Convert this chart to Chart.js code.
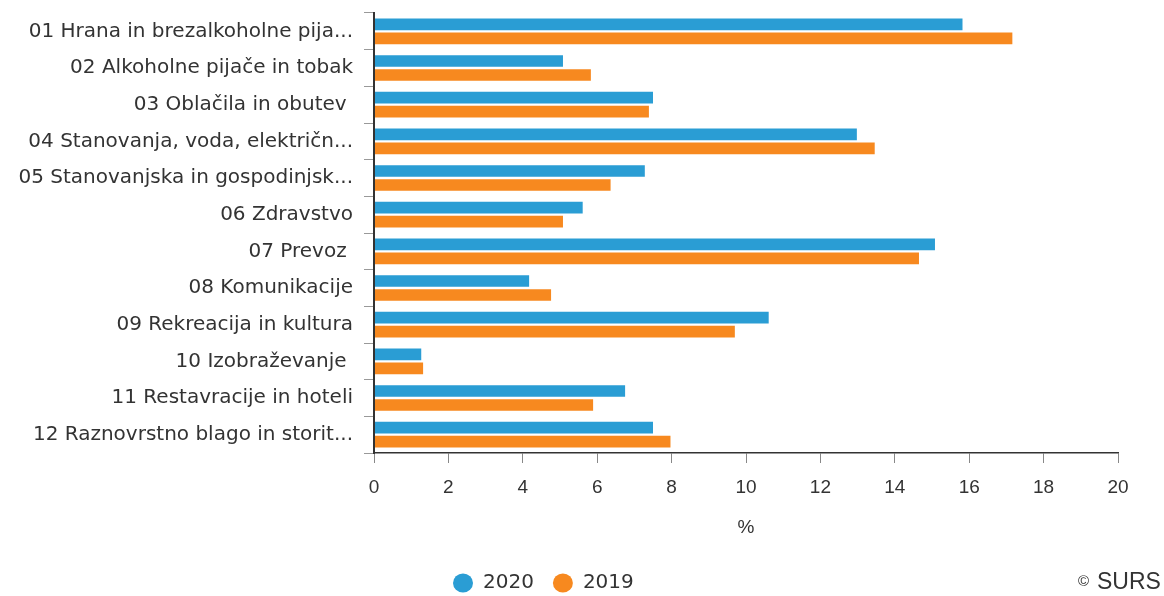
<!DOCTYPE html>
<html>
<head>
<meta charset="utf-8">
<script src="https://cdn.jsdelivr.net/npm/chart.js@4.4.1/dist/chart.umd.min.js"></script>
<style>
html,body{margin:0;padding:0;background:#fff;}
#wrap{width:1164px;height:596px;position:relative;}
</style>
</head>
<body>
<div id="wrap"><canvas id="c" width="1164" height="596"></canvas></div>
<script>
const categories = [
  "01 Hrana in brezalkoholne pija...",
  "02 Alkoholne pijače in tobak",
  "03 Oblačila in obutev ",
  "04 Stanovanja, voda, električn...",
  "05 Stanovanjska in gospodinjsk...",
  "06 Zdravstvo",
  "07 Prevoz ",
  "08 Komunikacije",
  "09 Rekreacija in kultura",
  "10 Izobraževanje ",
  "11 Restavracije in hoteli",
  "12 Raznovrstno blago in storit..."
];
const seriesNames = ["2020", "2019"];
const values2020 = [15.82, 5.08, 7.50, 12.98, 7.28, 5.61, 15.08, 4.17, 10.61, 1.27, 6.75, 7.50];
const values2019 = [17.16, 5.83, 7.39, 13.46, 6.36, 5.08, 14.65, 4.76, 9.70, 1.32, 5.89, 7.97];
const xMin = 0, xMax = 20, xStep = 2;
const axisTitle = "%";
const creditText = "SURS";

const BLUE = "#2a9dd4";
const ORANGE = "#f7891f";
const TEXT = "#333333";

const legendShift = {
  id: "legendShift",
  afterLayout(chart) {
    const L = chart.legend;
    if (!L) return;
    const pad = L.options.labels.padding;
    const h = L.height;
    L.left = 453 - pad;
    L.right = 1164;
    L.top = 554;
    L.bottom = 554 + h;
  }
};

const credit = {
  id: "credit",
  afterDraw(chart) {
    const ctx = chart.ctx;
    ctx.save();
    ctx.fillStyle = TEXT;
    ctx.textBaseline = "middle";
    ctx.textAlign = "left";
    ctx.font = "15px 'Liberation Sans', Arial, sans-serif";
    ctx.fillText("\u00A9", 1078, 582);
    ctx.font = "23px 'Liberation Sans', Arial, sans-serif";
    ctx.fillText(creditText, 1097, 583);
    ctx.restore();
  }
};

new Chart(document.getElementById("c"), {
  type: "bar",
  data: {
    labels: categories,
    datasets: [
      { label: seriesNames[0], data: values2020, backgroundColor: BLUE, borderWidth: 0,
        categoryPercentage: 0.764, barPercentage: 0.836 },
      { label: seriesNames[1], data: values2019, backgroundColor: ORANGE, borderWidth: 0,
        categoryPercentage: 0.764, barPercentage: 0.836 }
    ]
  },
  options: {
    indexAxis: "y",
    responsive: false,
    devicePixelRatio: 1,
    animation: false,
    layout: { padding: { top: 13, right: 46, left: 0, bottom: 8 } },
    scales: {
      y: {
        type: "category",
        position: "left",
        grid: { offset: true, drawOnChartArea: false, drawTicks: true, tickLength: 10, color: "#999999", lineWidth: 1 },
        border: { display: true, color: "#333333", width: 2, z: 1 },
        ticks: { color: TEXT, font: { family: "'DejaVu Sans', Verdana, sans-serif", size: 20 }, padding: 11, autoSkip: false },
        afterFit(axis) { axis.width = 374; axis.paddingTop = 0; axis.paddingBottom = 0; }
      },
      x: {
        type: "linear",
        min: xMin, max: xMax,
        grid: { drawOnChartArea: false, drawTicks: true, tickLength: 10, color: "#888888", lineWidth: 1 },
        border: { display: true, color: "#333333", width: 1.5, z: 1 },
        ticks: { stepSize: xStep, color: TEXT, font: { family: "'Liberation Sans', Arial, sans-serif", size: 19 }, padding: 13, maxRotation: 0 },
        title: { display: true, text: axisTitle, color: TEXT, font: { family: "'Liberation Sans', Arial, sans-serif", size: 19 }, padding: 0 },
        afterFit(axis) { axis.height = 86; axis.paddingLeft = 0; axis.paddingRight = 0; }
      }
    },
    plugins: {
      legend: {
        display: true,
        position: "bottom",
        align: "start",
        labels: {
          usePointStyle: true,
          pointStyle: "circle",
          pointStyleWidth: 20,
          boxHeight: 13.4,
          padding: 19,
          color: TEXT,
          font: { family: "'DejaVu Sans', Verdana, sans-serif", size: 20 }
        }
      },
      tooltip: { enabled: false }
    }
  },
  plugins: [legendShift, credit]
});
</script>
</body>
</html>
